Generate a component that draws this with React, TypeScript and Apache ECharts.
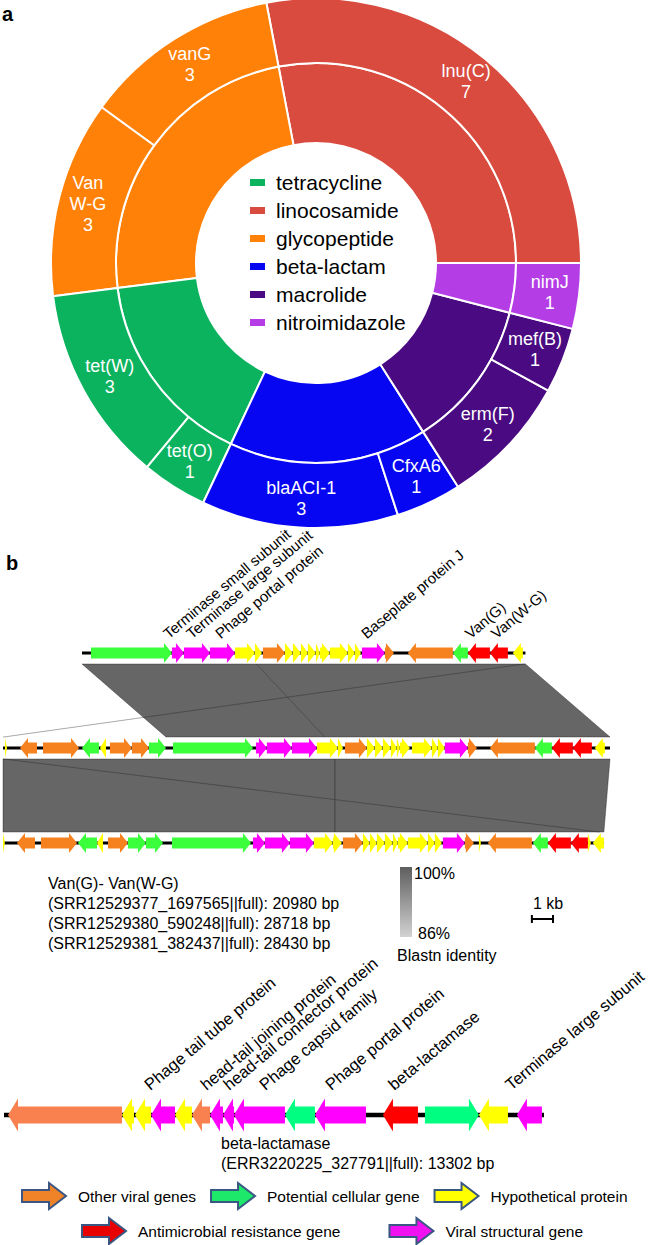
import React, { useEffect, useRef } from 'react';
import * as echarts from 'echarts';

const FONT = '"Liberation Sans", Arial, Helvetica, sans-serif';

// ---------- Panel a : antimicrobial resistance genes ----------
const classNames = ['tetracycline', 'linocosamide', 'glycopeptide', 'beta-lactam', 'macrolide', 'nitroimidazole'];
const classColors = ['#0BB35F', '#D84B3E', '#FF8107', '#0606F2', '#4A0B82', '#B43DE6'];
// ring order, counter-clockwise from 3 o'clock
const ringClassOrder = [1, 2, 0, 3, 4, 5];
const geneNames = ['lnu(C)', 'vanG', 'Van W-G', 'tet(W)', 'tet(O)', 'blaACI-1', 'CfxA6', 'erm(F)', 'mef(B)', 'nimJ'];
const geneCounts = [7, 3, 3, 3, 1, 3, 1, 2, 1, 1];
const geneClassIdx = [1, 2, 2, 0, 0, 3, 3, 4, 4, 5];

// ---------- Panel b : genome maps ----------
const categoryNames = ['Other viral genes', 'Potential cellular gene', 'Hypothetical protein', 'Antimicrobial resistance gene', 'Viral structural gene'];
const vanColors = ['#F5821F', '#3CFF3C', '#FFFF00', '#FF0000', '#FF00FF'];
const blaColors = ['#F98150', '#00FF80', '#FFFF00', '#FF0000', '#FF00FF'];
const legendColors = ['#F08228', '#1EE86A', '#FFFF00', '#E80000', '#F010F0'];

const vanTitle = 'Van(G)- Van(W-G)';
const vanTrackNames = ['(SRR12529377_1697565||full): 20980 bp', '(SRR12529380_590248||full): 28718 bp', '(SRR12529381_382437||full): 28430 bp'];
const vanTrackLengths = [20980, 28718, 28430];
const vanTrackOffsets = [3737, 0, 0];

// [start, end, strand, category]
const vanTrack1Genes = [
  [426, 4257, 1, 1], [4257, 4825, 1, 4], [4825, 6054, 1, 4], [6054, 7237, 1, 4],
  [7237, 8183, 1, 2], [8183, 8514, 1, 2], [8561, 9602, 1, 0], [9602, 9980, 1, 2],
  [9980, 10359, 1, 2], [10359, 10690, 1, 2], [10690, 11068, 1, 2], [11068, 11257, 1, 2],
  [11257, 11730, 1, 2], [11730, 12582, 1, 2], [12582, 12913, 1, 2], [12913, 13197, 1, 2],
  [13244, 14332, 1, 4], [14332, 14758, 1, 0], [15420, 17548, -1, 0], [17548, 18258, -1, 1],
  [18258, 19298, -1, 3], [19298, 20150, -1, 3], [20386, 20859, -1, 2],
];
const vanTrack2Genes = [
  [95, 190, 1, 2], [804, 1608, -1, 0], [1892, 3595, 1, 0], [3737, 4541, -1, 1],
  [4588, 4872, -1, 2], [5061, 6102, 1, 0], [6102, 6906, 1, 0], [6906, 7710, 1, 1],
  [8041, 11825, 1, 1], [11967, 12487, 1, 4], [12487, 13670, 1, 4], [13670, 14852, 1, 4],
  [14852, 15846, 1, 2], [15846, 16082, 1, 2], [16177, 17217, 1, 0], [17217, 17596, 1, 2],
  [17596, 17974, 1, 2], [17974, 18352, 1, 2], [18352, 18636, 1, 2], [18636, 18778, 1, 2],
  [18778, 19251, 1, 2], [19346, 20292, 1, 2], [20292, 20576, 1, 2], [20576, 20907, 1, 2],
  [20907, 21995, 1, 4], [21995, 22420, 1, 0], [23035, 25164, -1, 0], [25164, 25968, -1, 1],
  [25968, 26961, -1, 3], [26961, 27860, -1, 3], [28002, 28475, -1, 2],
];
const vanTrack3Genes = [
  [0, 90, 1, 2], [662, 1514, -1, 0], [1797, 3500, 1, 0], [3548, 4446, -1, 1],
  [4446, 4730, -1, 2], [4967, 5913, 1, 0], [5913, 6764, 1, 1], [6764, 7568, 1, 1],
  [7994, 11730, 1, 1], [11825, 12393, 1, 4], [12393, 13575, 1, 4], [13575, 14710, 1, 4],
  [14710, 15609, 1, 2], [15609, 16035, 1, 2], [16082, 17028, 1, 0], [17028, 17359, 1, 2],
  [17359, 17690, 1, 2], [17690, 18069, 1, 2], [18069, 18447, 1, 2], [18447, 18684, 1, 2],
  [18684, 19157, 1, 2], [19157, 20103, 1, 2], [20103, 20434, 1, 2], [20434, 20765, 1, 2],
  [20812, 21853, 1, 4], [21853, 22278, 1, 0], [22515, 22610, 1, 2], [22941, 25022, -1, 0],
  [25069, 25779, -1, 1], [25779, 26866, -1, 3], [26866, 27671, -1, 3], [27671, 27812, 1, 2],
  [27907, 28430, -1, 2],
];
const vanGenes = [vanTrack1Genes, vanTrack2Genes, vanTrack3Genes];

// blastn matches: [topStart, topEnd, bottomStart, bottomEnd] (each in its own track's bp)
const matches12 = [[0, 8263, 7710, 15231], [8263, 20980, 15231, 28718]];
const thinMatches12 = [[20880, 20960, 0, 80]];
const matches23 = [[0, 15704, 0, 15704], [15704, 28718, 15704, 28430]];
const thinMatches23 = [[0, 80, 28150, 28240]];

const vanLabels = ['Terminase small subunit', 'Terminase large subunit', 'Phage portal protein', 'Baseplate protein J', 'Van(G)', 'Van(W-G)'];
const vanLabelPos = [4162, 5250, 6622, 13528, 18447, 19677];

const blaTitle = 'beta-lactamase';
const blaTrackName = '(ERR3220225_327791||full): 13302 bp';
const blaLength = 13302;
const blaGenes = [
  [99, 2906, -1, 0], [2906, 3202, -1, 2], [3227, 3621, -1, 2], [3621, 4212, -1, 4],
  [4212, 4630, -1, 2], [4630, 5074, -1, 0], [5074, 5394, -1, 4], [5394, 5665, -1, 4],
  [5665, 6921, -1, 4], [6921, 7660, -1, 1], [7660, 8916, -1, 4], [9335, 10197, -1, 3],
  [10369, 11699, 1, 1], [11699, 12414, -1, 2], [12635, 13251, -1, 4],
];
const blaLabels = ['Phage tail tube protein', 'head-tail joining protein', 'head-tail connector protein', 'Phage capsid family', 'Phage portal protein', 'beta-lactamase', 'Terminase large subunit'];
const blaLabelPos = [3645, 5025, 5591, 6478, 8103, 9655, 12537];

const identityTicks = ['100%', '86%'];
const scaleBarLabel = '1 kb';
const scaleBarStart = 25022;
const scaleBarLen = 1000;

function arrowRenderer(bodyH: number, headH: number, headL: number) {
  return (params: any, api: any) => {
    const s = api.value(0), e = api.value(1), strand = api.value(2), t = api.value(3);
    const a = api.coord([s, t]);
    const b = api.coord([e, t]);
    const y = a[1];
    const x0 = a[0], x1 = b[0];
    const hl = Math.min(headL, x1 - x0);
    let pts: number[][];
    if (strand > 0) {
      pts = [[x0, y - bodyH], [x1 - hl, y - bodyH], [x1 - hl, y - headH], [x1, y], [x1 - hl, y + headH], [x1 - hl, y + bodyH], [x0, y + bodyH]];
    } else {
      pts = [[x1, y - bodyH], [x0 + hl, y - bodyH], [x0 + hl, y - headH], [x0, y], [x0 + hl, y + headH], [x0 + hl, y + bodyH], [x1, y + bodyH]];
    }
    return { type: 'polygon', shape: { points: pts }, style: { fill: api.visual('color') } };
  };
}

function backboneRenderer(width: number) {
  return (params: any, api: any) => {
    const a = api.coord([api.value(0), api.value(2)]);
    const b = api.coord([api.value(1), api.value(2)]);
    return { type: 'line', shape: { x1: a[0], y1: a[1], x2: b[0], y2: b[1] }, style: { stroke: '#000', lineWidth: width } };
  };
}

function matchRenderer(fill: string, stroke: string, lw: number) {
  return (params: any, api: any) => {
    const tT = api.value(4), bT = api.value(5);
    const a = api.coord([api.value(0), tT]);
    const b = api.coord([api.value(1), tT]);
    const c = api.coord([api.value(3), bT]);
    const d = api.coord([api.value(2), bT]);
    const yt = a[1] + 11, yb = c[1] - 11;
    return {
      type: 'polygon',
      shape: { points: [[a[0], yt], [b[0], yt], [c[0], yb], [d[0], yb]] },
      style: { fill, stroke, lineWidth: lw },
    };
  };
}

function labelRenderer(names: string[], dy: number, fontSize: number) {
  return (params: any, api: any) => {
    const p = api.coord([api.value(0), api.value(1)]);
    return {
      type: 'text',
      x: p[0],
      y: p[1] - dy,
      rotation: (40 * Math.PI) / 180,
      style: { text: names[params.dataIndex], fontSize, fontFamily: FONT, fill: '#000', align: 'left', verticalAlign: 'bottom' },
    };
  };
}

function buildOption() {
  // panel a data
  const innerData = ringClassOrder.map((ci) => ({
    name: classNames[ci],
    value: geneCounts.reduce((s, v, i) => (geneClassIdx[i] === ci ? s + v : s), 0),
    itemStyle: { color: classColors[ci] },
  }));
  const outerData = geneNames.map((n, i) => ({
    name: n,
    value: geneCounts[i],
    itemStyle: { color: classColors[geneClassIdx[i]] },
  }));

  // panel b data
  const series: any[] = [];
  const buildMatches = (list: number[][], tTop: number, tBot: number) =>
    list.map((m) => [m[0] + vanTrackOffsets[tTop], m[1] + vanTrackOffsets[tTop], m[2] + vanTrackOffsets[tBot], m[3] + vanTrackOffsets[tBot], tTop, tBot]);
  const mainMatches = [...buildMatches(matches12, 0, 1), ...buildMatches(matches23, 1, 2)];
  const thinMatches = [...buildMatches(thinMatches12, 0, 1), ...buildMatches(thinMatches23, 1, 2)];

  series.push({
    type: 'pie', name: 'classes', center: [316, 263], radius: [120, 200], startAngle: 0, clockwise: false,
    data: innerData, label: { show: false }, labelLine: { show: false }, silent: true,
    emphasis: { disabled: true }, itemStyle: { borderColor: '#fff', borderWidth: 2 },
  });
  series.push({
    type: 'pie', name: 'genes', center: [316, 263], radius: [200, 265], startAngle: 0, clockwise: false,
    data: outerData, labelLine: { show: false }, silent: true, emphasis: { disabled: true },
    itemStyle: { borderColor: '#fff', borderWidth: 2 },
    label: {
      show: true, position: 'inside', color: '#fff', fontSize: 18, lineHeight: 21, fontFamily: FONT,
      formatter: (p: any) => p.name.split(' ').join('\n') + '\n' + p.value,
    },
  });

  series.push({
    type: 'custom', name: 'matches', xAxisIndex: 0, yAxisIndex: 0, silent: true,
    encode: { x: [0, 1, 2, 3], y: [4, 5] }, data: mainMatches,
    renderItem: matchRenderer('#666666', 'rgba(20,20,20,0.45)', 0.8),
  });
  series.push({
    type: 'custom', name: 'thinMatches', xAxisIndex: 0, yAxisIndex: 0, silent: true,
    encode: { x: [0, 1, 2, 3], y: [4, 5] }, data: thinMatches,
    renderItem: matchRenderer('rgba(40,40,40,0.3)', 'rgba(40,40,40,0.3)', 0.6),
  });
  series.push({
    type: 'custom', name: 'vanBackbone', xAxisIndex: 0, yAxisIndex: 0, silent: true,
    encode: { x: [0, 1], y: 2 },
    data: vanTrackLengths.map((len, t) => [vanTrackOffsets[t], vanTrackOffsets[t] + len, t]),
    renderItem: backboneRenderer(3),
  });
  series.push({
    type: 'custom', name: 'blaBackbone', xAxisIndex: 1, yAxisIndex: 1, silent: true,
    encode: { x: [0, 1], y: 2 }, data: [[0, blaLength, 0]],
    renderItem: backboneRenderer(4.5),
  });
  categoryNames.forEach((cat, c) => {
    const data: number[][] = [];
    vanGenes.forEach((genes, t) => genes.forEach((g) => {
      if (g[3] === c) data.push([g[0] + vanTrackOffsets[t], g[1] + vanTrackOffsets[t], g[2], t]);
    }));
    series.push({
      type: 'custom', name: cat, xAxisIndex: 0, yAxisIndex: 0, silent: true,
      itemStyle: { color: vanColors[c] }, encode: { x: [0, 1], y: 3 }, data,
      renderItem: arrowRenderer(5.5, 10, 8),
    });
  });
  categoryNames.forEach((cat, c) => {
    const data = blaGenes.filter((g) => g[3] === c).map((g) => [g[0], g[1], g[2], 0]);
    series.push({
      type: 'custom', name: cat, xAxisIndex: 1, yAxisIndex: 1, silent: true,
      itemStyle: { color: blaColors[c] }, encode: { x: [0, 1], y: 3 }, data,
      renderItem: arrowRenderer(8.5, 16.5, 10),
    });
  });
  series.push({
    type: 'custom', name: 'vanLabels', xAxisIndex: 0, yAxisIndex: 0, silent: true,
    encode: { x: 0, y: 1 }, data: vanLabelPos.map((p) => [p + vanTrackOffsets[0], 0]),
    renderItem: labelRenderer(vanLabels, 12, 15),
  });
  series.push({
    type: 'custom', name: 'blaLabels', xAxisIndex: 1, yAxisIndex: 1, silent: true,
    encode: { x: 0, y: 1 }, data: blaLabelPos.map((p) => [p, 0]),
    renderItem: labelRenderer(blaLabels, 22, 16.5),
  });
  series.push({
    type: 'custom', name: 'scaleBar', xAxisIndex: 0, yAxisIndex: 0, silent: true,
    encode: { x: [0, 1], y: 2 }, data: [[scaleBarStart, scaleBarStart + scaleBarLen, 2.8]],
    renderItem: (params: any, api: any) => {
      const a = api.coord([api.value(0), api.value(2)]);
      const b = api.coord([api.value(1), api.value(2)]);
      const st = { stroke: '#000', lineWidth: 2 };
      return {
        type: 'group',
        children: [
          { type: 'line', shape: { x1: a[0], y1: a[1], x2: b[0], y2: b[1] }, style: st },
          { type: 'line', shape: { x1: a[0], y1: a[1] - 4, x2: a[0], y2: a[1] + 4 }, style: st },
          { type: 'line', shape: { x1: b[0], y1: b[1] - 4, x2: b[0], y2: b[1] + 4 }, style: st },
        ],
      };
    },
  });

  const txt = (text: string, x: number, y: number, fontSize: number, extra: any = {}) => ({
    type: 'text', x, y, silent: true,
    style: { text, fontSize, fontFamily: FONT, fill: '#000', verticalAlign: 'middle', ...extra },
  });
  const legendItem = (c: number) => ({
    name: categoryNames[c],
    itemStyle: { color: legendColors[c], borderColor: '#3A5683', borderWidth: 2 },
  });
  const arrowIcon = 'path://M0,7L27,7L27,0L44,13L27,26L27,19L0,19Z';

  return {
    animation: false,
    textStyle: { fontFamily: FONT },
    grid: [
      { left: 3, top: 653, width: 607, height: 190, show: false },
      { left: 4, top: 1115, width: 540, height: 20, show: false },
    ],
    xAxis: [
      { type: 'value', gridIndex: 0, min: 0, max: vanTrackLengths[1], show: false },
      { type: 'value', gridIndex: 1, min: 0, max: blaLength, show: false },
    ],
    yAxis: [
      { type: 'value', gridIndex: 0, min: 0, max: 2, inverse: true, show: false },
      { type: 'value', gridIndex: 1, min: 0, max: 1, inverse: true, show: false },
    ],
    legend: [
      {
        data: classNames, orient: 'vertical', left: 248, top: 172, padding: 0, icon: 'rect',
        itemWidth: 17, itemHeight: 9, itemGap: 7, selectedMode: false,
        textStyle: { fontSize: 21, color: '#000', fontFamily: FONT, padding: [0, 0, 0, 5] },
      },
      {
        data: [0, 1, 2].map(legendItem), orient: 'horizontal', left: 21, top: 1182, padding: 0, icon: arrowIcon,
        itemWidth: 44, itemHeight: 26, itemGap: 14, selectedMode: false,
        textStyle: { fontSize: 15.5, color: '#000', fontFamily: FONT, padding: [0, 0, 0, 7] },
      },
      {
        data: [3, 4].map(legendItem), orient: 'horizontal', left: 81, top: 1217, padding: 0, icon: arrowIcon,
        itemWidth: 44, itemHeight: 26, itemGap: 48, selectedMode: false,
        textStyle: { fontSize: 15.5, color: '#000', fontFamily: FONT, padding: [0, 0, 0, 7] },
      },
    ],
    graphic: [
      txt('a', 2, 14, 20, { fontWeight: 'bold' }),
      txt('b', 6, 563, 20, { fontWeight: 'bold' }),
      txt(vanTitle, 48, 883, 16),
      ...vanTrackNames.map((n, i) => txt(n, 48, 903 + i * 20, 16)),
      {
        type: 'rect', x: 400, y: 867, silent: true, shape: { width: 12, height: 70 },
        style: {
          fill: new echarts.graphic.LinearGradient(0, 0, 0, 1, [
            { offset: 0, color: '#5E5E5E' },
            { offset: 1, color: '#D2D2D2' },
          ]),
        },
      },
      txt(identityTicks[0], 414, 873, 16),
      txt(identityTicks[1], 418, 933, 16),
      txt('Blastn identity', 397, 955, 16),
      txt(scaleBarLabel, 533, 903, 16),
      txt(blaTitle, 221, 1143, 16),
      txt(blaTrackName, 221, 1163, 16),
    ],
    series,
  };
}

export default function App() {
  const ref = useRef<HTMLDivElement>(null);
  useEffect(() => {
    document.body.style.margin = '0';
    const chart = echarts.init(ref.current!, undefined, { renderer: 'svg' });
    chart.setOption(buildOption() as any);
    return () => chart.dispose();
  }, []);
  return <div ref={ref} style={{ width: 648, height: 1245, position: 'absolute', left: 0, top: 0, background: '#fff' }} />;
}
